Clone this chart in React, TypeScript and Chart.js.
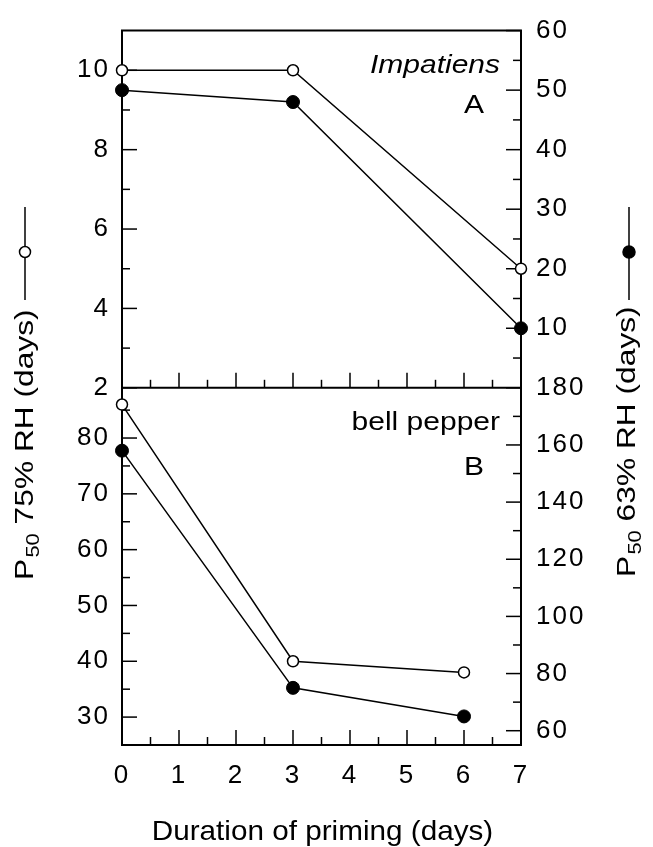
import React, { useEffect, useRef } from 'react';
import { Chart, registerables } from 'chart.js';

Chart.register(...registerables);

// ---- data ----
const daysA = [0, 3, 7];
const impatiens75 = [10, 10, 5]; // left axis, open circles
const impatiens63 = [50, 48, 10]; // right axis, filled circles
const daysB = [0, 3, 6];
const pepper75 = [86, 40, 38]; // left axis, open circles
const pepper63 = [158, 75, 65]; // right axis, filled circles

// ---- ticks ----
const xTicks = [0, 1, 2, 3, 4, 5, 6, 7];
const xMinor = [0.5, 1.5, 2.5, 3.5, 4.5, 5.5, 6.5];
const aLeftTicks = [2, 4, 6, 8, 10];
const aLeftMinor = [3, 5, 7, 9];
const aRightTicks = [10, 20, 30, 40, 50, 60];
const aRightMinor = [5, 15, 25, 35, 45, 55];
const bLeftTicks = [30, 40, 50, 60, 70, 80];
const bLeftMinor = [35, 45, 55, 65, 75, 85];
const bRightTicks = [60, 80, 100, 120, 140, 160, 180];
const bRightMinor = [70, 90, 110, 130, 150, 170];

const FONT = '"Liberation Sans", Arial, Helvetica, sans-serif';

const pts = (xs: number[], ys: number[]) => xs.map((x, i) => ({ x, y: ys[i] }));
const setTicks = (vals: number[]) => (s: any) => {
  s.ticks = vals.map((v) => ({ value: v }));
};

function stretchText(ctx: CanvasRenderingContext2D, text: string, x: number, y: number, sx: number, align: CanvasTextAlign) {
  ctx.save();
  ctx.translate(x, y);
  ctx.scale(sx, 1);
  ctx.textAlign = align;
  ctx.textBaseline = 'alphabetic';
  ctx.fillText(text, 0, 0);
  ctx.restore();
}

function yTitle(ctx: CanvasRenderingContext2D, baseX: number, startY: number, rest: string, sx: number) {
  ctx.save();
  ctx.translate(baseX, startY);
  ctx.rotate(-Math.PI / 2);
  ctx.scale(sx, 1);
  ctx.textAlign = 'left';
  ctx.textBaseline = 'alphabetic';
  ctx.font = `26px ${FONT}`;
  ctx.fillText('P', 0, 0);
  let w = ctx.measureText('P').width;
  ctx.font = `18px ${FONT}`;
  ctx.fillText('50', w + 1, 6);
  w += 1 + ctx.measureText('50').width;
  ctx.font = `26px ${FONT}`;
  ctx.fillText(rest, w, 0);
  ctx.restore();
}

const decor = {
  id: 'decor',
  beforeDraw(chart: any) {
    (chart.ctx as any).letterSpacing = '2px';
  },
  beforeDatasetsDraw(chart: any) {
    const { ctx, chartArea, scales } = chart;
    const { left, right, top, bottom } = chartArea;
    const yDiv = scales.yAL.bottom;
    ctx.save();
    ctx.strokeStyle = '#000';
    ctx.lineCap = 'butt';
    const ln = (x1: number, y1: number, x2: number, y2: number) => {
      ctx.beginPath();
      ctx.moveTo(x1, y1);
      ctx.lineTo(x2, y2);
      ctx.stroke();
    };
    ctx.lineWidth = 2;
    ln(left - 1, top, right + 1, top);
    ln(left, yDiv, right, yDiv);
    ctx.lineWidth = 1.5;
    const X = scales.x;
    for (const base of [yDiv, bottom]) {
      xTicks.forEach((v) => { const px = X.getPixelForValue(v); ln(px, base, px, base - 15); });
      xMinor.forEach((v) => { const px = X.getPixelForValue(v); ln(px, base, px, base - 8); });
    }
    const yl = (sc: any, maj: number[], min: number[]) => {
      maj.forEach((v) => { const py = sc.getPixelForValue(v); ln(left, py, left + 15, py); });
      min.forEach((v) => { const py = sc.getPixelForValue(v); ln(left, py, left + 8, py); });
    };
    const yr = (sc: any, maj: number[], min: number[]) => {
      maj.forEach((v) => { const py = sc.getPixelForValue(v); ln(right, py, right - 15, py); });
      min.forEach((v) => { const py = sc.getPixelForValue(v); ln(right, py, right - 8, py); });
    };
    yl(scales.yAL, aLeftTicks, aLeftMinor);
    yr(scales.yAR, aRightTicks, aRightMinor);
    yl(scales.yBL, bLeftTicks, bLeftMinor);
    yr(scales.yBR, bRightTicks, bRightMinor);
    ctx.restore();
  },
  afterDraw(chart: any) {
    const { ctx, chartArea, scales } = chart;
    const { left, right } = chartArea;
    const yDiv = scales.yAL.bottom;
    (ctx as any).letterSpacing = '0px';
    ctx.save();
    ctx.fillStyle = '#000';
    // panel labels
    ctx.font = `italic 25px ${FONT}`;
    stretchText(ctx, 'Impatiens', right - 21, chartArea.top + 42, 1.2, 'right');
    ctx.font = `25px ${FONT}`;
    stretchText(ctx, 'A', right - 37, chartArea.top + 82, 1.2, 'right');
    stretchText(ctx, 'bell pepper', right - 21, yDiv + 42, 1.2, 'right');
    stretchText(ctx, 'B', right - 37, yDiv + 87, 1.2, 'right');
    // x title
    ctx.font = `28px ${FONT}`;
    stretchText(ctx, 'Duration of priming (days)', 322.5, 840, 1.06, 'center');
    // y titles
    yTitle(ctx, 33, 580, ' 75% RH (days)', 1.22);
    yTitle(ctx, 635, 577, ' 63% RH (days)', 1.22);
    // legend markers
    ctx.strokeStyle = '#000';
    ctx.lineWidth = 1.5;
    for (const [mx, filled] of [[25, false], [629, true]] as [number, boolean][]) {
      ctx.beginPath();
      ctx.moveTo(mx, 207);
      ctx.lineTo(mx, 300);
      ctx.stroke();
      ctx.beginPath();
      ctx.arc(mx, 252, filled ? 6 : 5.5, 0, Math.PI * 2);
      ctx.fillStyle = filled ? '#000' : '#fff';
      ctx.fill();
      ctx.stroke();
    }
    ctx.restore();
  },
};

const tickFont = { family: FONT, size: 26 };

function yAxis(position: 'left' | 'right', stack: string, min: number, max: number, vals: number[]) {
  return {
    type: 'linear' as const,
    position,
    stack,
    stackWeight: 1,
    min,
    max,
    afterBuildTicks: setTicks(vals),
    afterFit: (s: any) => { s.width = position === 'left' ? 122 : 132; },
    grid: { display: false, drawTicks: false },
    border: { display: true, color: '#000', width: 2 },
    ticks: { color: '#000', font: tickFont, padding: position === 'left' ? 12 : 15, autoSkip: false },
  };
}

export default function App() {
  const ref = useRef<HTMLCanvasElement>(null);
  useEffect(() => {
    if (!ref.current) return;
    const open = { pointBackgroundColor: '#fff', pointBorderColor: '#000', pointRadius: 5.5, pointBorderWidth: 1.5 };
    const fill = { pointBackgroundColor: '#000', pointBorderColor: '#000', pointRadius: 6.5, pointBorderWidth: 1 };
    const common = { borderColor: '#000', borderWidth: 1.5, tension: 0, clip: false as any, pointHoverRadius: 6 };
    const chart = new Chart(ref.current, {
      type: 'line',
      data: {
        datasets: [
          { label: 'Impatiens 63% RH', data: pts(daysA, impatiens63), yAxisID: 'yAR', ...common, ...fill },
          { label: 'Impatiens 75% RH', data: pts(daysA, impatiens75), yAxisID: 'yAL', ...common, ...open },
          { label: 'bell pepper 63% RH', data: pts(daysB, pepper63), yAxisID: 'yBR', ...common, ...fill },
          { label: 'bell pepper 75% RH', data: pts(daysB, pepper75), yAxisID: 'yBL', ...common, ...open },
        ],
      },
      options: {
        responsive: false,
        animation: false,
        devicePixelRatio: 1,
        layout: { padding: { top: 18, left: 0, right: 0, bottom: 0 } },
        plugins: { legend: { display: false }, tooltip: { enabled: false } },
        scales: {
          x: {
            type: 'linear',
            position: 'bottom',
            min: 0,
            max: 7,
            afterBuildTicks: setTicks(xTicks),
            afterFit: (s: any) => { s.height = 102; },
            grid: { display: false, drawTicks: false },
            border: { display: true, color: '#000', width: 2 },
            ticks: { color: '#000', font: tickFont, padding: 15, autoSkip: false, maxRotation: 0 },
          },
          yBL: yAxis('left', 'L', 25, 89, bLeftTicks),
          yAL: yAxis('left', 'L', 2, 11, aLeftTicks),
          yAR: yAxis('right', 'R', 0, 60, aRightTicks),
          yBR: yAxis('right', 'R', 55, 180, bRightTicks),
        } as any,
      },
      plugins: [decor],
    });
    return () => chart.destroy();
  }, []);
  return (
    <div style={{ position: 'absolute', left: 0, top: 0, width: 653, height: 847, background: '#fff' }}>
      <canvas ref={ref} width={653} height={847} style={{ display: 'block' }} />
    </div>
  );
}
